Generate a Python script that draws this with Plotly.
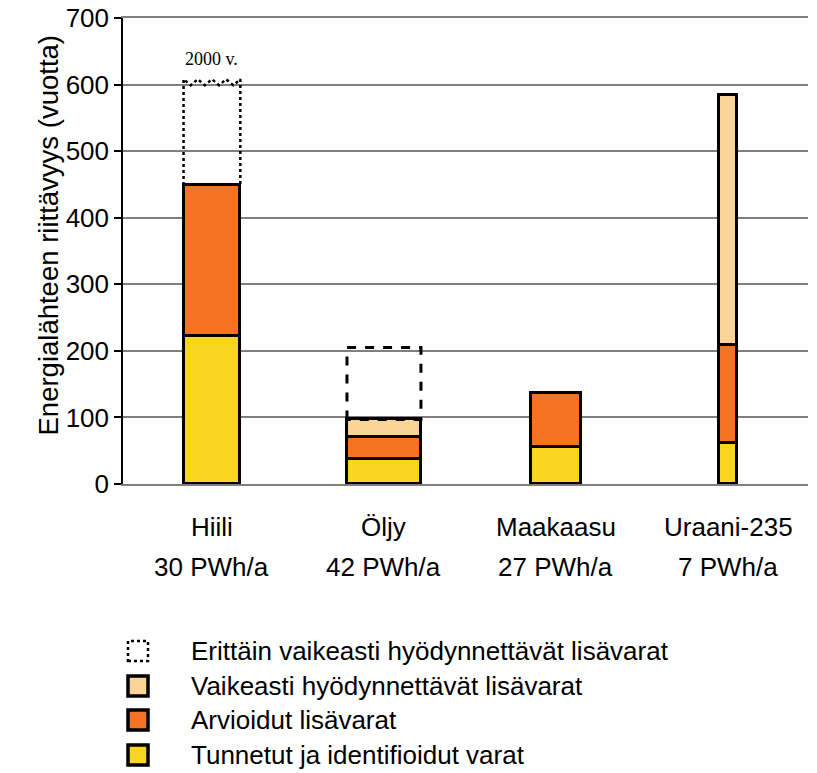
import plotly.graph_objects as go

categories = ["Hiili", "Öljy", "Maakaasu", "Uraani-235"]
production = ["30 PWh/a", "42 PWh/a", "27 PWh/a", "7 PWh/a"]
known = [222, 38, 56, 62]
estimated = [227, 32, 81, 147]
difficult = [0, 27, 0, 375]
very_difficult = [155, 108, 0, 0]
bar_widths = [0.33, 0.43, 0.29, 0.1]
tick_vals = [0, 100, 200, 300, 400, 500, 600, 700]

legend_names = [
    "Erittäin vaikeasti hyödynnettävät lisävarat",
    "Vaikeasti hyödynnettävät lisävarat",
    "Arvioidut lisävarat",
    "Tunnetut ja identifioidut varat",
]
YELLOW = "#F8D61D"
ORANGE = "#F57323"
PEACH = "#FBD496"

FONT = "Liberation Sans, Arial, sans-serif"
W, H = 817, 773
L, R, T, B = 123, 9, 18, 289
PW, PH = W - L - R, H - T - B

def px(xp):
    return (xp - L) / PW

def py(yp):
    return (H - B - yp) / PH

xs = list(range(len(categories)))
fig = go.Figure()

for vals, col in [(known, YELLOW), (estimated, ORANGE), (difficult, PEACH)]:
    fig.add_trace(go.Bar(
        x=xs, y=vals, width=bar_widths,
        marker=dict(color=col, line=dict(color="black", width=3.5)),
        showlegend=False, hoverinfo="skip",
    ))

# dotted/dashed outlines for very difficult reserves
for i, v in enumerate(very_difficult):
    if v <= 0:
        continue
    base = known[i] + estimated[i] + difficult[i]
    top = base + v
    x0 = xs[i] - bar_widths[i] / 2
    x1 = xs[i] + bar_widths[i] / 2
    dash = "dot" if i == 0 else "dash"
    if i == 0:
        # wavy top
        n = 8
        zx = [x0 + (x1 - x0) * k / n for k in range(n + 1)]
        zy = [top + (4 if k % 2 == 0 else -5) for k in range(n + 1)]
        fig.add_trace(go.Scatter(
            x=[x0] + zx + [x1], y=[base] + zy + [base],
            mode="lines", line=dict(color="black", width=2.5, dash=dash),
            showlegend=False, hoverinfo="skip"))
    else:
        fig.add_trace(go.Scatter(
            x=[x0, x0, x1, x1, x0], y=[base, top, top, base, base],
            mode="lines", line=dict(color="black", width=3, dash=dash),
            showlegend=False, hoverinfo="skip"))

annotations = []
annotations.append(dict(x=0, y=very_difficult[0] + known[0] + estimated[0] + 16,
                        xref="x", yref="y", text="2000 v.", showarrow=False,
                        yanchor="bottom",
                        font=dict(family="Liberation Serif, Times New Roman, serif", size=18, color="black")))
for i, (c, p) in enumerate(zip(categories, production)):
    annotations.append(dict(x=xs[i], y=0, xref="x", yref="paper", yanchor="middle",
                            yshift=-43, text=c, showarrow=False,
                            font=dict(family=FONT, size=26, color="black")))
    annotations.append(dict(x=xs[i], y=0, xref="x", yref="paper", yanchor="middle",
                            yshift=-83, text=p, showarrow=False,
                            font=dict(family=FONT, size=26, color="black")))

annotations.append(dict(x=px(30), y=py(236), xref="paper", yref="paper",
                        text="Energialähteen riittävyys (vuotta)", textangle=-90,
                        showarrow=False, font=dict(family=FONT, size=27.5, color="black")))

shapes = []
legend_colors = ["white", PEACH, ORANGE, YELLOW]
legend_dash = ["dot", "solid", "solid", "solid"]
row_y = [651, 686, 720, 755]
for name, col, d, yy in zip(legend_names, legend_colors, legend_dash, row_y):
    shapes.append(dict(type="rect", xref="paper", yref="paper",
                       x0=px(128), x1=px(148), y0=py(yy + 10), y1=py(yy - 10),
                       fillcolor=col, line=dict(color="black", width=3.5 if d == "solid" else 2.5, dash=d)))
    annotations.append(dict(x=px(189), y=py(yy), xref="paper", yref="paper",
                            xanchor="left", yanchor="middle", text=name, showarrow=False,
                            font=dict(family=FONT, size=26, color="black")))

fig.update_layout(
    width=W, height=H,
    margin=dict(l=L, r=R, t=T, b=B, autoexpand=False),
    paper_bgcolor="white", plot_bgcolor="white",
    barmode="stack", bargap=0,
    annotations=annotations, shapes=shapes,
    xaxis=dict(range=[-0.517, 3.465], showticklabels=False, showgrid=False, zeroline=False,
               showline=True, linecolor="#7f7f7f", linewidth=1.5, mirror=True, ticks="",
               automargin=False),
    yaxis=dict(range=[0, 700], tickvals=tick_vals, ticks="outside", ticklen=7,
               tickcolor="black", tickwidth=1.5, automargin=False,
               ticklabeloverflow="allow",
               showline=True, linecolor="black", linewidth=1.5,
               showgrid=True, gridcolor="#7f7f7f", gridwidth=1.5, zeroline=False,
               tickfont=dict(family=FONT, size=26, color="black")),
)

fig.write_html("out.html", config={"displayModeBar": False},
               post_script="document.body.style.margin='0px';")
